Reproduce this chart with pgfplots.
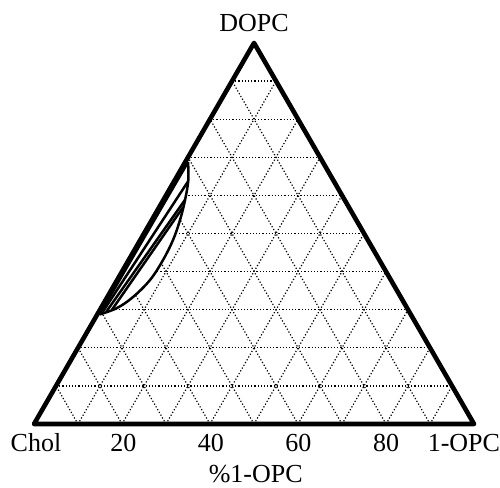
\documentclass[border=0pt]{standalone}
\usepackage{fontspec}
\setmainfont{Liberation Serif}
\usepackage{pgfplots}
\pgfplotsset{compat=1.18}

\begin{document}
\begin{tikzpicture}[lbl/.style={anchor=base, font=\fontsize{13}{15}\selectfont}]
\begin{axis}[
  scale only axis, width=220pt, height=190.53pt,
  xmin=0, xmax=100, ymin=0, ymax=86.6025,
  hide axis, clip=false,
  grd/.style={black, densely dotted, line width=0.6pt, mark=none},
  tie/.style={black, line width=1.25pt, mark=none},
]
% dotted grid: horizontal lines
\addplot[grd] coordinates {(5,8.66) (95,8.66)};
\addplot[grd] coordinates {(10,17.32) (90,17.32)};
\addplot[grd] coordinates {(15,25.98) (85,25.98)};
\addplot[grd] coordinates {(20,34.64) (80,34.64)};
\addplot[grd] coordinates {(25,43.30) (75,43.30)};
\addplot[grd] coordinates {(30,51.96) (70,51.96)};
\addplot[grd] coordinates {(35,60.62) (65,60.62)};
\addplot[grd] coordinates {(40,69.28) (60,69.28)};
\addplot[grd] coordinates {(45,77.94) (55,77.94)};
% parallel to the left edge
\addplot[grd] coordinates {(10,0) (55,77.94)};
\addplot[grd] coordinates {(20,0) (60,69.28)};
\addplot[grd] coordinates {(30,0) (65,60.62)};
\addplot[grd] coordinates {(40,0) (70,51.96)};
\addplot[grd] coordinates {(50,0) (75,43.30)};
\addplot[grd] coordinates {(60,0) (80,34.64)};
\addplot[grd] coordinates {(70,0) (85,25.98)};
\addplot[grd] coordinates {(80,0) (90,17.32)};
\addplot[grd] coordinates {(90,0) (95,8.66)};
% parallel to the right edge
\addplot[grd] coordinates {(10,0) (5,8.66)};
\addplot[grd] coordinates {(20,0) (10,17.32)};
\addplot[grd] coordinates {(30,0) (15,25.98)};
\addplot[grd] coordinates {(40,0) (20,34.64)};
\addplot[grd] coordinates {(50,0) (25,43.30)};
\addplot[grd] coordinates {(60,0) (30,51.96)};
\addplot[grd] coordinates {(70,0) (35,60.62)};
\addplot[grd] coordinates {(80,0) (40,69.28)};
\addplot[grd] coordinates {(90,0) (45,77.94)};

% two-phase region (outer boundary), filled white
\addplot[tie, fill=white, smooth, tension=0.6] coordinates {
 (35.0,59.5) (35.07,55.45) (34.32,50.9) (33.18,46.36) (31.59,41.82)
 (29.32,37.27) (26.36,32.73) (22.5,28.86) (18.86,26.36) (14.9,24.9)
};
% inner boundary
\addplot[tie] coordinates {(14.9,24.9) (35.0,59.5)};
% tie lines
\addplot[tie] coordinates {(15.4,25.15) (35.05,55.2)};
\addplot[tie] coordinates {(16.45,25.55) (34.35,51.0)};
\addplot[tie] coordinates {(17.7,25.95) (33.9,49.3)};

% triangle
\addplot[black, line width=2.3pt, line join=round, mark=none] coordinates {
 (0,0) (100,0) (50,86.6025) (0,0)
} -- cycle;

\node[lbl] at (axis cs:50,89.16) {DOPC};
\node[lbl] at (axis cs:0.45,-6.14) {Chol};
\node[lbl] at (axis cs:20.3,-6.14) {20};
\node[lbl] at (axis cs:40.2,-6.14) {40};
\node[lbl] at (axis cs:60.1,-6.14) {60};
\node[lbl] at (axis cs:80,-6.14) {80};
\node[lbl] at (axis cs:97.7,-6.14) {1-OPC};
\node[lbl] at (axis cs:50.4,-13.4) {\%1-OPC};

\coordinate (bl) at (axis cs:-7.73,-14.32);
\coordinate (tr) at (axis cs:105.9,96.36);
\end{axis}
\pgfresetboundingbox
\path (bl) rectangle (tr);
\end{tikzpicture}
\end{document}
